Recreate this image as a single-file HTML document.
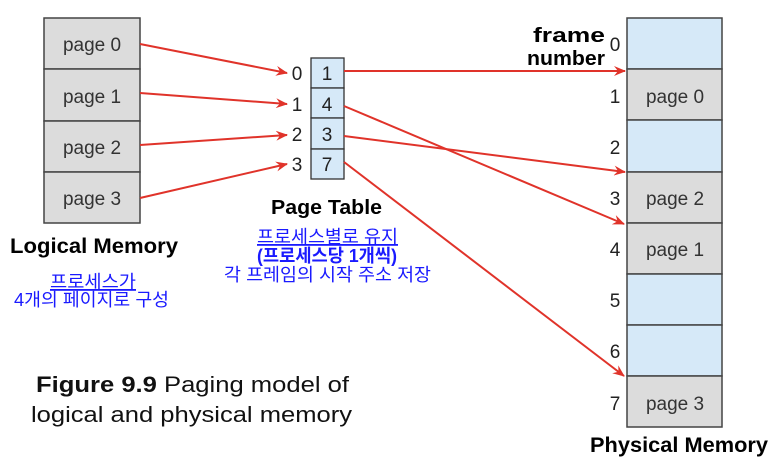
<!DOCTYPE html>
<html><head><meta charset="utf-8"><style>
html,body{margin:0;padding:0;background:#fff;width:779px;height:460px;overflow:hidden}
svg{display:block}
.k{font-family:"Liberation Sans","Noto Sans CJK KR",sans-serif}
.pg{font-size:19px;fill:#333}
.num{font-size:19px;fill:#222}
.b{font-weight:bold;fill:#000}
.ko{fill:#1a1aff;font-size:18px}
</style></head><body>
<svg width="779" height="460" viewBox="0 0 779 460">
<defs><marker id="ah" markerWidth="12" markerHeight="10" refX="11" refY="5" orient="auto" markerUnits="userSpaceOnUse"><path d="M0,0 L12,5 L0,10 L4,5 Z" fill="#e0332a"/></marker></defs>
<g>
<rect x="44" y="18" width="96" height="51" fill="#dcdcdc" stroke="#444" stroke-width="1.5"/>
<rect x="44" y="69" width="96" height="52" fill="#dcdcdc" stroke="#444" stroke-width="1.5"/>
<rect x="44" y="121" width="96" height="51" fill="#dcdcdc" stroke="#444" stroke-width="1.5"/>
<rect x="44" y="172" width="96" height="51" fill="#dcdcdc" stroke="#444" stroke-width="1.5"/>
<text class="k pg" x="92" y="51" text-anchor="middle">page 0</text>
<text class="k pg" x="92" y="103" text-anchor="middle">page 1</text>
<text class="k pg" x="92" y="154" text-anchor="middle">page 2</text>
<text class="k pg" x="92" y="205" text-anchor="middle">page 3</text>
</g>
<g>
<rect x="311" y="58" width="33" height="30" fill="#d6e9f8" stroke="#333" stroke-width="1.3"/>
<rect x="311" y="88" width="33" height="30" fill="#d6e9f8" stroke="#333" stroke-width="1.3"/>
<rect x="311" y="118" width="33" height="31" fill="#d6e9f8" stroke="#333" stroke-width="1.3"/>
<rect x="311" y="149" width="33" height="30" fill="#d6e9f8" stroke="#333" stroke-width="1.3"/>
<text class="k num" x="327" y="80" text-anchor="middle">1</text>
<text class="k num" x="327" y="111" text-anchor="middle">4</text>
<text class="k num" x="327" y="141" text-anchor="middle">3</text>
<text class="k num" x="327" y="171" text-anchor="middle">7</text>
<text class="k num" x="297" y="80" text-anchor="middle">0</text>
<text class="k num" x="297" y="111" text-anchor="middle">1</text>
<text class="k num" x="297" y="141" text-anchor="middle">2</text>
<text class="k num" x="297" y="171" text-anchor="middle">3</text>
</g>
<g>
<rect x="627" y="18" width="95" height="51" fill="#d6e9f8" stroke="#444" stroke-width="1.5"/>
<rect x="627" y="69" width="95" height="51" fill="#dcdcdc" stroke="#444" stroke-width="1.5"/>
<rect x="627" y="120" width="95" height="52" fill="#d6e9f8" stroke="#444" stroke-width="1.5"/>
<rect x="627" y="172" width="95" height="51" fill="#dcdcdc" stroke="#444" stroke-width="1.5"/>
<rect x="627" y="223" width="95" height="51" fill="#dcdcdc" stroke="#444" stroke-width="1.5"/>
<rect x="627" y="274" width="95" height="51" fill="#d6e9f8" stroke="#444" stroke-width="1.5"/>
<rect x="627" y="325" width="95" height="51" fill="#d6e9f8" stroke="#444" stroke-width="1.5"/>
<rect x="627" y="376" width="95" height="51" fill="#dcdcdc" stroke="#444" stroke-width="1.5"/>
<text class="k pg" x="675" y="103" text-anchor="middle">page 0</text>
<text class="k pg" x="675" y="205" text-anchor="middle">page 2</text>
<text class="k pg" x="675" y="256" text-anchor="middle">page 1</text>
<text class="k pg" x="675" y="410" text-anchor="middle">page 3</text>
<text class="k num" x="615" y="51" text-anchor="middle">0</text>
<text class="k num" x="615" y="103" text-anchor="middle">1</text>
<text class="k num" x="615" y="154" text-anchor="middle">2</text>
<text class="k num" x="615" y="205" text-anchor="middle">3</text>
<text class="k num" x="615" y="256" text-anchor="middle">4</text>
<text class="k num" x="615" y="307" text-anchor="middle">5</text>
<text class="k num" x="615" y="358" text-anchor="middle">6</text>
<text class="k num" x="615" y="410" text-anchor="middle">7</text>
</g>
<g stroke="#e0332a" stroke-width="2" fill="none" marker-end="url(#ah)">
<line x1="140" y1="44" x2="287" y2="73"/>
<line x1="140" y1="93" x2="287" y2="104"/>
<line x1="140" y1="145" x2="287" y2="135"/>
<line x1="140" y1="198" x2="287" y2="164"/>
<line x1="344" y1="71" x2="625" y2="71"/>
<line x1="344" y1="106" x2="624" y2="224"/>
<line x1="344" y1="136" x2="625" y2="172"/>
<line x1="344" y1="162" x2="624" y2="376"/>
</g>
<text class="k b" x="533" y="42" textLength="72" lengthAdjust="spacingAndGlyphs" font-size="20">frame</text>
<text class="k b" x="527" y="65" textLength="78" lengthAdjust="spacingAndGlyphs" font-size="20">number</text>
<text class="k b" x="271" y="214" textLength="111" lengthAdjust="spacingAndGlyphs" font-size="20">Page Table</text>
<text class="k b" x="10" y="253" textLength="168" lengthAdjust="spacingAndGlyphs" font-size="21">Logical Memory</text>
<text class="k b" x="590" y="452" textLength="178" lengthAdjust="spacingAndGlyphs" font-size="21">Physical Memory</text>
<g>
<text class="k ko" x="257" y="243" textLength="141" lengthAdjust="spacingAndGlyphs" text-decoration="underline">프로세스별로 유지</text>
<text class="k ko" x="257" y="262" textLength="140" lengthAdjust="spacingAndGlyphs" font-weight="bold">(프로세스당 1개씩)</text>
<text class="k ko" x="224" y="281" textLength="207" lengthAdjust="spacingAndGlyphs">각 프레임의 시작 주소 저장</text>
</g>
<g>
<text class="k ko" x="50" y="288" textLength="86" lengthAdjust="spacingAndGlyphs" text-decoration="underline">프로세스가</text>
<text class="k ko" x="14" y="306" textLength="155" lengthAdjust="spacingAndGlyphs">4개의 페이지로 구성</text>
</g>
<g>
<text class="k" x="36" y="392" font-size="22" fill="#111" textLength="313" lengthAdjust="spacingAndGlyphs"><tspan font-weight="bold">Figure 9.9</tspan> Paging model of</text>
<text class="k" x="31" y="422" font-size="22" fill="#111" textLength="321" lengthAdjust="spacingAndGlyphs">logical and physical memory</text>
</g>
</svg>
</body></html>
